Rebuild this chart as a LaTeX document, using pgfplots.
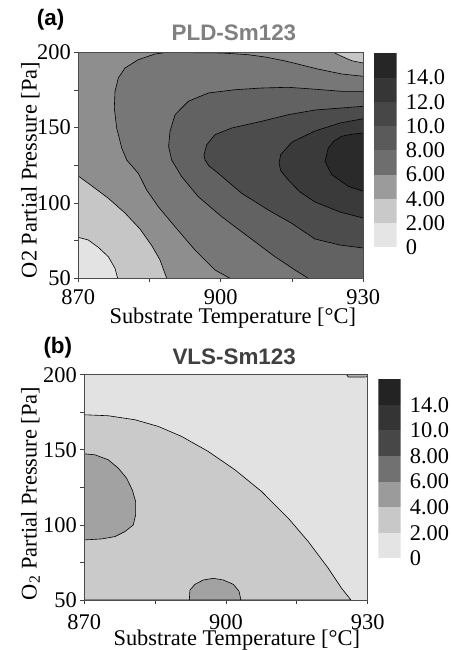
\documentclass[border=0pt]{standalone}
\usepackage{fontspec}
\setmainfont{Liberation Serif}
\setsansfont{Liberation Sans}
\usepackage{pgfplots}
\pgfplotsset{compat=1.18}
% plot (a) fills
\definecolor{a0}{HTML}{E3E3E3}
\definecolor{a1}{HTML}{C6C6C6}
\definecolor{a2}{HTML}{8E8E8E}
\definecolor{a3}{HTML}{777777}
\definecolor{a4}{HTML}{626262}
\definecolor{a5}{HTML}{4C4C4C}
\definecolor{a6}{HTML}{3A3A3A}
\definecolor{a7}{HTML}{2A2A2A}
% colorbar (a)
\definecolor{k0}{HTML}{E5E5E5}
\definecolor{k1}{HTML}{C9C9C9}
\definecolor{k2}{HTML}{9B9B9B}
\definecolor{k3}{HTML}{6E6E6E}
\definecolor{k4}{HTML}{5A5A5A}
\definecolor{k5}{HTML}{474747}
\definecolor{k6}{HTML}{363636}
\definecolor{k7}{HTML}{262626}
% plot (b)
\definecolor{b0}{HTML}{E2E2E2}
\definecolor{b1}{HTML}{CACACA}
\definecolor{b2}{HTML}{A2A2A2}
% colorbar (b)
\definecolor{m0}{HTML}{E4E4E4}
\definecolor{m1}{HTML}{C8C8C8}
\definecolor{m2}{HTML}{9B9B9B}
\definecolor{m3}{HTML}{717171}
\definecolor{m4}{HTML}{474747}
\definecolor{m5}{HTML}{343434}
\definecolor{m6}{HTML}{232323}
\newcommand\bigf{\fontsize{22.5}{26}\selectfont}
\pgfplotsset{
  cont/.style={
    scale only axis,
    xmin=870, xmax=930, ymin=50, ymax=200,
    xtick={870,900,930}, minor xtick={885,915},
    ytick={50,100,150,200}, minor ytick={75,125,175},
    tick align=outside, xtick pos=bottom, ytick pos=left,
    major tick length=4bp, minor tick length=4bp,
    tick style={black!75, line width=0.7bp},
    axis line style={black!70, line width=0.9bp},
    axis on top,
    /pgf/number format/assume math mode=true,
    tick label style={font=\bigf},
    label style={font=\bigf},
  },
  reg/.style={draw=black, line width=0.6bp, line join=round, fill=#1},
  cbar/.style={
    scale only axis, xmin=0, xmax=1,
    axis line style={draw=none}, xtick=\empty,
    major tick length=0pt, tick style={draw=none},
    yticklabel pos=right,
    yticklabel style={anchor=west, font=\bigf, inner sep=0pt, xshift=9bp},
  },
}
\begin{document}
\begin{tikzpicture}
\useasboundingbox (0bp,0bp) rectangle (451bp,-650bp);
\node[anchor=base west, font=\sffamily\bfseries\bigf, inner sep=0pt] at (36.7bp,-25bp) {(a)};
\node[anchor=base west, font=\sffamily\bfseries\bigf, inner sep=0pt] at (43.3bp,-353bp) {(b)};

% ---------------- panel (a)
\begin{axis}[cont, at={(78.3bp,-278.3bp)}, anchor=origin, width=285bp, height=226bp,
  title={PLD-Sm123},
  title style={font=\sffamily\bfseries\bigf, text=black!50, at={(axis description cs:0.546,1)}, anchor=base, yshift=5.5bp, inner sep=0pt},
  xlabel={Substrate Temperature [°C]},
  ylabel={O2 Partial Pressure [Pa]},
  xticklabel style={yshift=-4bp},
  xlabel style={at={(axis description cs:0.542,0)}, anchor=base, yshift=-44.7bp, inner sep=0pt},
  ylabel style={at={(axis description cs:-0.146,0.479)}, anchor=base, inner sep=0pt},
]
\addplot[fill=a0, draw=none] coordinates {(870,50) (930,50) (930,200) (870,200)} -- cycle;
\addplot[reg=a1] coordinates {(870,77.21) (872.1,75.42) (874.21,70.58) (876.32,64.34) (877.73,56.64) (878.29,50) (930,50) (930,200) (870,200)} -- cycle;
\addplot[reg=a2] coordinates {(870,117.90) (872.88,111.26) (876.25,103.30) (879.83,93.34) (882.99,82.72) (885.52,71.44) (887.20,62.15) (888.61,50) (930,50) (930,192.89) (927.56,194.42) (925.45,197.35) (923.68,200) (870,200)} -- cycle;
\addplot[reg=a3] coordinates {(901.94,50) (898.78,55.51) (894.57,68.78) (890.36,84.25) (886.84,97.52) (884.40,108.61) (882.63,119.69) (880.19,128.52) (879.14,136.48) (878.08,149.76) (877.58,163.03) (877.73,174.11) (878.42,182.94) (879.83,189.58) (882.63,195.09) (886.15,198.87) (888.25,199.8) (892.46,199.8) (895.98,199.67) (900.19,199.54) (905.79,198.41) (909.5,196.8) (913.5,194.3) (917,191.6) (920,189.2) (925.45,185.6) (930,184.07) (930,50)} -- cycle;
\addplot[reg=a4] coordinates {(918.42,50) (915.62,55.51) (911.41,64.34) (905.79,77.61) (900.19,90.89) (895.26,104.16) (891.77,117.43) (889.66,128.52) (889.0,137.5) (889.31,147.57) (890.36,158.59) (893.16,167.48) (897.37,172.99) (902.99,175.17) (908.61,176.30) (914.21,176.77) (919.83,175.5) (925.45,174.11) (930,174.11) (930,50)} -- cycle;
\addplot[reg=a5] coordinates {(930,70.11) (925.09,72.10) (919.83,76.08) (914.93,86.50) (910.00,95.33) (904.40,106.42) (899.47,119.69) (897.52,124.54) (896.67,128.52) (896.46,131.84) (897.03,138.67) (898.78,145.31) (902.30,149.76) (908.61,154.20) (914.21,158.59) (919.83,161.70) (930,164.16)} -- cycle;
\addplot[reg=a6] coordinates {(930,90.02) (925.09,94.00) (919.83,100.64) (916.68,107.28) (914.21,115.24) (912.6,121.5) (912.26,126.53) (912.6,132.04) (914.99,140.47) (919.83,147.77) (925.09,153.07) (930,155.93)} -- cycle;
\addplot[reg=a7] coordinates {(930,146.44) (927.5,145.6) (925.45,144.25) (923.8,141) (922.63,136.48) (921.94,127.66) (923.35,118.76) (926.84,111.06) (930,107.74)} -- cycle;
\end{axis}

\begin{axis}[cbar, at={(374bp,-247.3bp)}, anchor=origin, width=22.7bp, height=194bp, ymin=0, ymax=16,
  ytick={0,2,4,6,8,10,12,14}, yticklabels={0,2.00,4.00,6.00,8.00,10.0,12.0,14.0}]
\addplot[fill=k0, draw=none] coordinates {(0,0) (1,0) (1,2) (0,2)} -- cycle;
\addplot[fill=k1, draw=none] coordinates {(0,2) (1,2) (1,4) (0,4)} -- cycle;
\addplot[fill=k2, draw=none] coordinates {(0,4) (1,4) (1,6) (0,6)} -- cycle;
\addplot[fill=k3, draw=none] coordinates {(0,6) (1,6) (1,8) (0,8)} -- cycle;
\addplot[fill=k4, draw=none] coordinates {(0,8) (1,8) (1,10) (0,10)} -- cycle;
\addplot[fill=k5, draw=none] coordinates {(0,10) (1,10) (1,12) (0,12)} -- cycle;
\addplot[fill=k6, draw=none] coordinates {(0,12) (1,12) (1,14) (0,14)} -- cycle;
\addplot[fill=k7, draw=none] coordinates {(0,14) (1,14) (1,16) (0,16)} -- cycle;
\end{axis}

% ---------------- panel (b)
\begin{axis}[cont, at={(84.3bp,-600bp)}, anchor=origin, width=283.4bp, height=225.3bp,
  title={VLS-Sm123},
  title style={font=\sffamily\bfseries\bigf, text=black!75, at={(axis description cs:0.529,1)}, anchor=base, yshift=4.7bp, inner sep=0pt},
  xlabel={Substrate Temperature [°C]},
  ylabel={O\textsubscript{2} Partial Pressure [Pa]},
  xticklabel style={yshift=-7bp},
  xlabel style={at={(axis description cs:0.538,0)}, anchor=base, yshift=-45.7bp, inner sep=0pt},
  ylabel style={at={(axis description cs:-0.168,0.473)}, anchor=base, inner sep=0pt},
]
\addplot[fill=b0, draw=none] coordinates {(870,50) (930,50) (930,200) (870,200)} -- cycle;
\addplot[reg=b1] coordinates {(870,173.33) (875.08,172.67) (880.73,170.0) (885.67,165.56) (890.61,158.89) (896.25,148.89) (901.90,136.67) (907.54,122.22) (913.19,104.44) (917.42,88.89) (921.66,71.11) (924.48,57.78) (926.46,50) (870,50)} -- cycle;
\addplot[reg=b2] coordinates {(870,147.33) (872.26,146.67) (875.08,143.33) (877.20,137.78) (878.96,131.11) (880.16,123.33) (880.87,115.56) (880.87,106.67) (880.37,100.0) (878.61,95.56) (876.49,92.22) (873.67,90.67) (870,90.0)} -- cycle;
\addplot[reg=b2] coordinates {(892.23,50) (892.37,56.67) (893.43,60.44) (895.19,63.33) (897.31,64.44) (899.43,63.33) (901.55,60.44) (902.74,56.0) (903.17,50)} -- cycle;
\addplot[reg=b1] coordinates {(925.54,200) (925.89,198.44) (929.42,198.44) (930,198.8) (930,200)} -- cycle;
\end{axis}

\begin{axis}[cbar, at={(378.3bp,-558.3bp)}, anchor=origin, width=22.4bp, height=179bp, ymin=0, ymax=7,
  ytick={0,1,2,3,4,5,6}, yticklabels={0,2.00,4.00,6.00,8.00,10.0,14.0}]
\addplot[fill=m0, draw=none] coordinates {(0,0) (1,0) (1,1) (0,1)} -- cycle;
\addplot[fill=m1, draw=none] coordinates {(0,1) (1,1) (1,2) (0,2)} -- cycle;
\addplot[fill=m2, draw=none] coordinates {(0,2) (1,2) (1,3) (0,3)} -- cycle;
\addplot[fill=m3, draw=none] coordinates {(0,3) (1,3) (1,4) (0,4)} -- cycle;
\addplot[fill=m4, draw=none] coordinates {(0,4) (1,4) (1,5) (0,5)} -- cycle;
\addplot[fill=m5, draw=none] coordinates {(0,5) (1,5) (1,6) (0,6)} -- cycle;
\addplot[fill=m6, draw=none] coordinates {(0,6) (1,6) (1,7) (0,7)} -- cycle;
\end{axis}
\end{tikzpicture}
\end{document}
